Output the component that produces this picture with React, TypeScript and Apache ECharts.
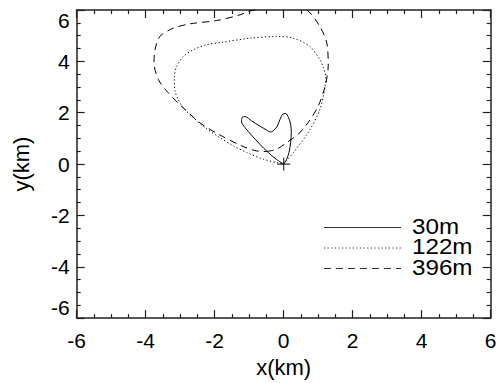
import React, { useEffect, useRef } from "react";
import * as echarts from "echarts";

const seriesNames = ["30m", "122m", "396m"];

const curve30m: [number, number][] = [
  [0, 0], [0.087, 0.19], [0.154, 0.45], [0.2, 0.84], [0.22, 1.23], [0.2, 1.55],
  [0.14, 1.81], [0.058, 1.97], [-0.03, 1.94], [-0.107, 1.74], [-0.185, 1.48],
  [-0.28, 1.32], [-0.38, 1.25], [-0.49, 1.32], [-0.69, 1.48], [-0.93, 1.68],
  [-1.12, 1.85], [-1.21, 1.81], [-1.22, 1.64], [-1.12, 1.42], [-0.93, 1.12],
  [-0.69, 0.77], [-0.45, 0.45], [-0.2, 0.17], [0, 0],
];

const curve122m: [number, number][] = [
  [0, 0], [0.28, 0.45], [0.71, 1.23], [1.05, 2.13], [1.2, 3.03], [1.22, 3.4],
  [1.15, 3.75], [1.05, 4.06], [0.76, 4.58], [0.28, 4.9], [-0.2, 4.97],
  [-0.98, 4.9], [-1.75, 4.75], [-2.23, 4.65], [-2.62, 4.45], [-2.91, 4.19],
  [-3.1, 3.81], [-3.17, 3.36], [-3.15, 2.84], [-3.06, 2.52], [-2.91, 2.19],
  [-2.62, 1.81], [-2.28, 1.42], [-1.85, 1.03], [-1.46, 0.71], [-1.07, 0.45],
  [-0.59, 0.19], [-0.11, 0.03], [0, 0],
];

const curve396m: [number, number][] = [
  [-0.49, 0.49], [-0.2, 0.58], [0.09, 0.84], [0.42, 1.16], [0.72, 1.64],
  [1.0, 2.26], [1.2, 3.03], [1.29, 3.81], [1.25, 4.71], [1.05, 5.35],
  [0.67, 6.0], [0.1, 6.25], [-0.6, 6.1], [-1.0, 5.95], [-1.27, 5.81],
  [-1.94, 5.59], [-2.72, 5.46], [-3.2, 5.29], [-3.59, 4.97], [-3.73, 4.45],
  [-3.76, 3.94], [-3.63, 3.29], [-3.35, 2.78], [-3.0, 2.3], [-2.4, 1.58],
  [-1.9, 1.17], [-1.22, 0.71], [-0.78, 0.51], [-0.49, 0.49],
];

const originPoint: [number, number][] = [[0, 0]];

const lineStyles: any[] = [
  { type: "solid", dash: [] as number[] },
  { type: [1.2, 2.4], dash: [1.2, 2.4] },
  { type: [7, 5], dash: [7, 5] },
];

export default function App() {
  const ref = useRef<HTMLDivElement>(null);
  useEffect(() => {
    if (!ref.current) return;
    document.body.style.margin = "0";
    const chart = echarts.init(ref.current, null, { renderer: "svg" });
    const font = "Liberation Sans, Arial, sans-serif";
    const axisCommon = {
      type: "value",
      min: -6,
      max: 6,
      interval: 2,
      axisLine: { show: true, onZero: false, lineStyle: { color: "#222", width: 1.5 } },
      axisTick: { show: true, inside: true, length: 8, lineStyle: { color: "#222", width: 1.2 } },
      minorTick: { show: true, splitNumber: 4, length: 4, lineStyle: { color: "#222", width: 1.2 } },
      splitLine: { show: false },
      minorSplitLine: { show: false },
    };
    const curves = [curve30m, curve122m, curve396m];
    const legendX1 = 324;
    const legendX2 = 401;
    const legendYs = [227.5, 248, 268.5];
    const graphics: any[] = [];
    seriesNames.forEach((n, i) => {
      graphics.push({
        type: "line",
        shape: { x1: legendX1, y1: legendYs[i], x2: legendX2, y2: legendYs[i] },
        style: { stroke: "#333", lineWidth: 1, lineDash: lineStyles[i].dash },
      });
      graphics.push({
        type: "text",
        x: 412,
        y: legendYs[i] - 1.5,
        scaleX: 1.1,
        style: {
          text: n,
          font: `22px ${font}`,
          fill: "#000",
          textVerticalAlign: "middle",
          textAlign: "left",
        },
      });
    });
    chart.setOption({
      animation: false,
      backgroundColor: "#fff",
      textStyle: { fontFamily: font },
      grid: { left: 76.7, right: 9.3, top: 10, bottom: 62, containLabel: false },
      xAxis: [
        {
          ...axisCommon,
          position: "bottom",
          name: "x(km)",
          nameLocation: "middle",
          nameGap: 33,
          nameTextStyle: { fontSize: 22, color: "#000", fontFamily: font },
          axisLabel: { show: true, fontSize: 21, color: "#000", margin: 12, fontFamily: font },
        },
        {
          ...axisCommon,
          position: "top",
          axisLabel: { show: false },
        },
      ],
      yAxis: [
        {
          ...axisCommon,
          position: "left",
          name: "y(km)",
          nameLocation: "middle",
          nameGap: 44,
          nameTextStyle: { fontSize: 22, color: "#000", fontFamily: font },
          axisLabel: {
            show: true,
            fontSize: 21,
            color: "#000",
            margin: 7,
            fontFamily: font,
            verticalAlignMinLabel: "bottom",
            verticalAlignMaxLabel: "top",
          },
        },
        {
          ...axisCommon,
          position: "right",
          axisLabel: { show: false },
        },
      ],
      series: [
        ...curves.map((d, i) => ({
          type: "line",
          name: seriesNames[i],
          data: d,
          xAxisIndex: 0,
          yAxisIndex: 0,
          showSymbol: false,
          symbol: "none",
          smooth: 0.3,
          clip: true,
          lineStyle: { color: "#000", width: 1, type: lineStyles[i].type },
        })),
        {
          type: "scatter",
          name: "origin",
          data: originPoint,
          symbol: "path://M5,0L5,10M0,5L10,5",
          symbolSize: 13,
          itemStyle: { color: "none", borderColor: "#000", borderWidth: 1.2 },
        },
      ],
      graphic: graphics,
    });
    return () => chart.dispose();
  }, []);
  return <div ref={ref} style={{ width: 500, height: 383 }} />;
}
